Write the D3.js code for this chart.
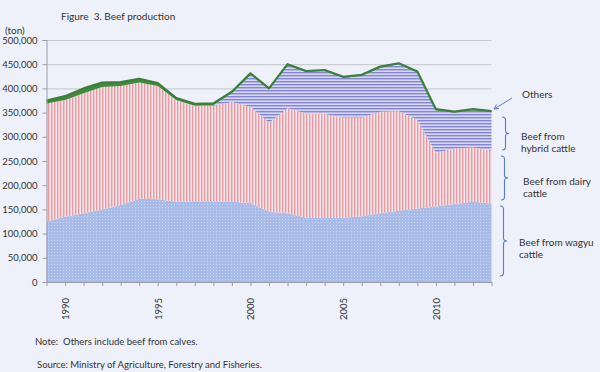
<!DOCTYPE html>
<html>
<head>
<meta charset="utf-8">
<script src="https://cdn.jsdelivr.net/npm/d3@7"></script>
<style>
  body { margin: 0; background: #eef0fa; }
  text { font-family: Lato, "Open Sans", sans-serif; fill: #333; white-space: pre; }
</style>
</head>
<body>
<svg id="chart" width="600" height="372"></svg>
<script>
// values in tons
var years = [1989, 1990, 1991, 1992, 1993, 1994, 1995, 1996, 1997, 1998, 1999, 2000,
             2001, 2002, 2003, 2004, 2005, 2006, 2007, 2008, 2009, 2010, 2011, 2012, 2013]
var wagyu  = [125000, 135000, 142000, 150000, 159000, 172000, 171000, 166000, 167000, 167000, 166000, 163000,
              145000, 142000, 133000, 132000, 133000, 136000, 142000, 147000, 152000, 156000, 161000, 166000, 162000]
var dairy  = [244000, 241000, 248000, 253000, 246000, 240000, 234000, 210000, 197000, 197000, 206000, 199000,
              184000, 217000, 215000, 215000, 207000, 204000, 210000, 206000, 183000, 111000, 115000, 112000, 109000]
var hybrid = [0, 0, 0, 0, 0, 0, 0, 0, 0, 1000, 19000, 67000,
              69000, 89000, 86000, 89000, 82000, 86000, 91000, 97000, 98000, 88000, 74000, 77000, 80000]
var others = [6000, 8000, 10000, 9000, 8000, 8000, 6000, 4000, 4000, 4000, 2000, 2000,
              2000, 2000, 2000, 2000, 2000, 2000, 2000, 2000, 2000, 2000, 2000, 2000, 2000]
var yTicks = [0, 50000, 100000, 150000, 200000, 250000, 300000, 350000, 400000, 450000, 500000]
var yearLabels = [1990, 1995, 2000, 2005, 2010]

var svg = d3.select("#chart")

var mLeft = 46.5, mRight = 491.5, mTop = 40, mBottom = 282

var x = d3.scaleLinear().domain([1989, 2013]).range([mLeft, mRight])
var y = d3.scaleLinear().domain([0, 500000]).range([mBottom, mTop])

// fill patterns
var defs = svg.append("defs")
var p1 = defs.append("pattern").attr("id", "pWagyu").attr("patternUnits", "userSpaceOnUse")
  .attr("width", 3).attr("height", 3)
p1.append("rect").attr("width", 3).attr("height", 3).attr("fill", "#a9bce8")
p1.append("rect").attr("width", 1).attr("height", 1).attr("fill", "#c6d3f1")

var p2 = defs.append("pattern").attr("id", "pDairy").attr("patternUnits", "userSpaceOnUse")
  .attr("width", 3).attr("height", 3)
p2.append("rect").attr("width", 3).attr("height", 3).attr("fill", "#f4e3ea")
p2.append("rect").attr("width", 1.4).attr("height", 3).attr("fill", "#e59ea2")

var p3 = defs.append("pattern").attr("id", "pHybrid").attr("patternUnits", "userSpaceOnUse")
  .attr("width", 3).attr("height", 3)
p3.append("rect").attr("width", 3).attr("height", 3).attr("fill", "#d6d7f3")
p3.append("rect").attr("width", 3).attr("height", 1.4).attr("fill", "#8486d4")

// gridlines
svg.append("g")
  .attr("transform", "translate(" + mLeft + ",0)")
  .call(d3.axisLeft(y).tickValues(yTicks.slice(1)).tickSize(-(mRight - mLeft)).tickFormat(""))
  .call(function(g) {
    g.select(".domain").remove()
    g.selectAll("line").attr("stroke", "#c4c6cc").attr("stroke-width", 1)
  })

// stacked areas
var table = years.map(function(yr, i) {
  return { year: yr, wagyu: wagyu[i], dairy: dairy[i], hybrid: hybrid[i], others: others[i] }
})
var keys = ["wagyu", "dairy", "hybrid", "others"]
var fills = { wagyu: "url(#pWagyu)", dairy: "url(#pDairy)", hybrid: "url(#pHybrid)", others: "#3f8a3f" }
var series = d3.stack().keys(keys)(table)

var area = d3.area()
  .x(function(d) { return x(d.data.year) })
  .y0(function(d) { return y(d[0]) })
  .y1(function(d) { return y(d[1]) })

svg.selectAll("path.layer")
  .data(series)
  .enter()
  .append("path")
  .attr("class", "layer")
  .attr("d", area)
  .attr("fill", function(d) { return fills[d.key] })

// green top edge
var topLine = d3.line()
  .x(function(d) { return x(d.data.year) })
  .y(function(d) { return y(d[1]) })
svg.append("path")
  .attr("d", topLine(series[3]))
  .attr("fill", "none")
  .attr("stroke", "#3a803a")
  .attr("stroke-width", 2.2)
  .attr("stroke-linejoin", "round")

// y axis
svg.append("g")
  .attr("transform", "translate(" + mLeft + ",0)")
  .call(d3.axisLeft(y).tickValues(yTicks).tickSize(4).tickPadding(5).tickFormat(d3.format(",")))
  .call(function(g) {
    g.selectAll("line, .domain").attr("stroke", "#9a9ca4")
    g.selectAll("text").style("font-size", "9.5px").attr("fill", "#333")
  })

// x axis
svg.append("g")
  .attr("transform", "translate(0," + mBottom + ")")
  .call(d3.axisBottom(x).tickValues(years).tickSize(4).tickSizeOuter(0)
    .tickFormat(function(d) { return yearLabels.indexOf(d) >= 0 ? d : "" }))
  .call(function(g) {
    g.selectAll("line, .domain").attr("stroke", "#9a9ca4")
    g.selectAll("text")
      .style("font-size", "9.5px")
      .attr("fill", "#333")
      .attr("text-anchor", "end")
      .attr("transform", "rotate(-90)")
      .attr("x", -16)
      .attr("y", 0)
      .attr("dy", "0.35em")
  })

// titles and notes
svg.append("text").attr("x", 61).attr("y", 20).style("font-size", "10px")
  .text("Figure  3. Beef production")
svg.append("text").attr("x", 5).attr("y", 34).style("font-size", "10px").text("(ton)")
svg.append("text").attr("x", 35).attr("y", 345).style("font-size", "9.5px")
  .text("Note:  Others include beef from calves.")
svg.append("text").attr("x", 37).attr("y", 368).style("font-size", "9.5px")
  .text("Source: Ministry of Agriculture, Forestry and Fisheries.")

// annotations on the right
var blue = "#5b7fc4"
svg.append("line").attr("x1", 512).attr("y1", 98).attr("x2", 494).attr("y2", 109)
  .attr("stroke", blue).attr("stroke-width", 1)
svg.append("path").attr("d", "M494,109 L496.5,104.5 M494,109 L499,108.5")
  .attr("stroke", blue).attr("stroke-width", 1).attr("fill", "none")
svg.append("text").attr("x", 522).attr("y", 98).style("font-size", "10px").text("Others")

function brace(x0, y0, y1, w) {
  var xm = x0 + w / 2, ym = (y0 + y1) / 2
  return "M" + x0 + "," + y0 + " Q" + xm + "," + y0 + " " + xm + "," + (y0 + 3) +
    " L" + xm + "," + (ym - 3) + " Q" + xm + "," + ym + " " + (x0 + w) + "," + ym +
    " Q" + xm + "," + ym + " " + xm + "," + (ym + 3) +
    " L" + xm + "," + (y1 - 3) + " Q" + xm + "," + y1 + " " + x0 + "," + y1
}
var braces = [
  { x0: 502, y0: 117, y1: 150, lines: ["Beef from", "hybrid cattle"], tx: 521, ty: 140 },
  { x0: 501, y0: 156, y1: 200, lines: ["Beef from dairy", "cattle"], tx: 523, ty: 185 },
  { x0: 500, y0: 206, y1: 276, lines: ["Beef from wagyu", "cattle"], tx: 519, ty: 246 }
]
braces.forEach(function(b) {
  svg.append("path").attr("d", brace(b.x0, b.y0, b.y1, 7))
    .attr("fill", "none").attr("stroke", blue).attr("stroke-width", 1.1)
  b.lines.forEach(function(s, i) {
    svg.append("text").attr("x", b.tx).attr("y", b.ty + i * 12).style("font-size", "10px").text(s)
  })
})
</script>
</body>
</html>
